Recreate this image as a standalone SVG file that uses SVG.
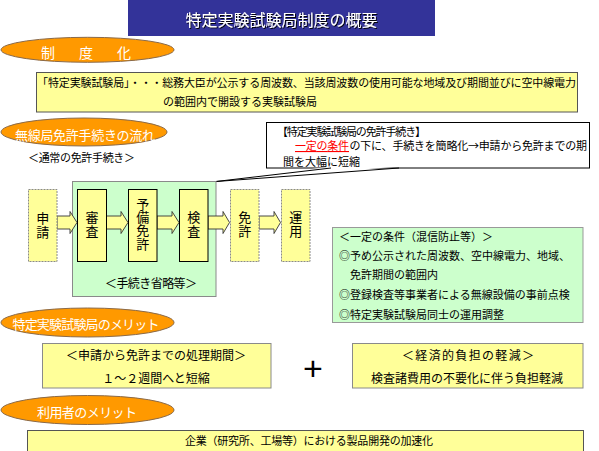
<svg xmlns="http://www.w3.org/2000/svg" width="599" height="451" viewBox="0 0 599 451">
<defs>
<style>
text{font-family:"Noto Sans CJK JP","Noto Sans CJK SC",sans-serif;fill:#000;}
.t11{font-size:11px;}
.t12{font-size:12px;}
.t13{font-size:13px;}
.ell{fill:#FF9900;stroke:#8a6a4a;stroke-width:1;}
.etxt{fill:#fff;font-size:13px;}
.yb{fill:#FFFF99;stroke:#555;stroke-width:1;}
.ybg{fill:#FFFF99;stroke:#8a8a8a;stroke-width:1;}
.fbk{fill:#FFFF99;stroke:#000;stroke-width:1;}
.arr{fill:#FFFF99;stroke:#333;stroke-width:0.9;}
.vt{font-size:13px;text-anchor:middle;writing-mode:vertical-rl;}
.mid{text-anchor:middle;}
</style>
<filter id="sh" x="-5%" y="-20%" width="110%" height="140%">
<feDropShadow dx="1" dy="1" stdDeviation="0.4" flood-color="#000" flood-opacity="0.9"/>
</filter>
</defs>
<rect width="599" height="451" fill="#fff"/>

<g id="title">
<rect x="128" y="0" width="307" height="36" fill="#333399"/>
<text x="281.5" y="25.5" class="mid" style="font-size:16px;fill:#fff" filter="url(#sh)">特定実験試験局制度の概要</text>
</g>

<g id="sec-seido">
<ellipse cx="87.5" cy="49.8" rx="86.5" ry="12.5" class="ell"/>
<text x="41" y="57.5" class="etxt" style="font-size:14px;letter-spacing:5px">制　度　化</text>
</g>

<g id="def-box">
<rect x="36.5" y="72.5" width="541" height="39.5" class="yb"/>
<text x="37" y="86.5" class="t11" textLength="539" lengthAdjust="spacing">「特定実験試験局」・・・総務大臣が公示する周波数、当該周波数の使用可能な地域及び期間並びに空中線電力</text>
<text x="163" y="105.5" class="t11">の範囲内で開設する実験試験局</text>
</g>

<g id="sec-flow">
<ellipse cx="84" cy="132" rx="83" ry="14" class="ell"/>
<text x="85" y="139.5" class="etxt mid" textLength="140" lengthAdjust="spacing">無線局免許手続きの流れ</text>
</g>

<g id="label-normal">
<text x="28" y="162" class="t11" textLength="107" lengthAdjust="spacing">＜通常の免許手続き＞</text>
</g>

<g id="callout">
<rect x="266.5" y="122.5" width="323" height="45.5" fill="#fff" stroke="#000" stroke-width="1"/>
<polygon points="331,166.5 399,166.5 216,181.5" fill="#fff"/>
<path d="M331,168 L216,181.5 L399,168" fill="none" stroke="#000" stroke-width="1"/>
<text x="277" y="135.5" class="t11" textLength="149" lengthAdjust="spacing">【特定実験試験局の免許手続き】</text>
<text x="295" y="150" class="t11" textLength="54" lengthAdjust="spacing" style="fill:#ff0000;text-decoration:underline">一定の条件</text>
<text x="349.5" y="150" class="t11" textLength="237.5" lengthAdjust="spacing">の下に、手続きを簡略化→申請から免許までの期</text>
<text x="283" y="165.5" class="t11">間を大幅に短縮</text>
</g>

<g id="omit-group">
<rect x="72.5" y="181.5" width="143.5" height="115" fill="#CCFFCC" stroke="#8a8a8a" stroke-width="1"/>
<text x="151" y="288" class="t12 mid" textLength="92" lengthAdjust="spacing">＜手続き省略等＞</text>
</g>

<g id="connectors">
<path class="arr" d="M57,216 H70 V211.5 L77,222.5 L70,233.5 V229 H57 Z"/>
<path class="arr" d="M106,216 H121 V211.5 L128,222.5 L121,233.5 V229 H106 Z"/>
<path class="arr" d="M157,216 H172 V211.5 L179,222.5 L172,233.5 V229 H157 Z"/>
<path class="arr" d="M208,216 H223 V211.5 L229.5,222.5 L223,233.5 V229 H208 Z"/>
<path class="arr" d="M259,216 H274 V211.5 L280.5,222.5 L274,233.5 V229 H259 Z"/>
</g>

<g id="n-shinsei">
<rect x="28.5" y="189.5" width="28.5" height="72" class="ybg" stroke-dasharray="2 1"/>
<text x="42.7" y="225.5" class="vt" style="letter-spacing:1px">申請</text>
</g>
<g id="n-shinsa">
<rect x="77.5" y="189.5" width="29" height="72" class="fbk"/>
<text x="92" y="224.5" class="vt" style="letter-spacing:1px">審査</text>
</g>
<g id="n-yobi">
<rect x="128.5" y="189.5" width="28.5" height="72" class="fbk"/>
<text x="142.7" y="224" class="vt" style="letter-spacing:0.3px">予備免許</text>
</g>
<g id="n-kensa">
<rect x="179.5" y="189.5" width="28.5" height="72" class="fbk"/>
<text x="193.7" y="224.5" class="vt" style="letter-spacing:1px">検査</text>
</g>
<g id="n-menkyo">
<rect x="230.5" y="189.5" width="28.5" height="72" class="ybg" stroke-dasharray="2 1"/>
<text x="244.7" y="225" class="vt" style="letter-spacing:1px">免許</text>
</g>
<g id="n-unyo">
<rect x="281.5" y="189.5" width="28.5" height="72" class="ybg" stroke-dasharray="2 1"/>
<text x="295.7" y="225" class="vt" style="letter-spacing:1px">運用</text>
</g>

<g id="conditions">
<rect x="332.5" y="227.5" width="250.5" height="95" fill="#CCFFCC" stroke="#999" stroke-width="1"/>
<text x="339" y="241" class="t11">＜一定の条件（混信防止等）＞</text>
<text x="339" y="260" class="t11">◎予め公示された周波数、空中線電力、地域、</text>
<text x="350" y="279" class="t11">免許期間の範囲内</text>
<text x="339" y="299" class="t11">◎登録検査等事業者による無線設備の事前点検</text>
<text x="339" y="319" class="t11">◎特定実験試験局同士の運用調整</text>
</g>

<g id="sec-merit">
<ellipse cx="87.5" cy="322.5" rx="86.5" ry="14.5" class="ell"/>
<text x="86" y="328.5" class="etxt mid" textLength="147" lengthAdjust="spacing">特定実験試験局のメリット</text>
</g>

<g id="merit-period">
<rect x="42.5" y="343.5" width="228.5" height="44.5" class="ybg"/>
<text x="156" y="359.5" class="t12 mid">＜申請から免許までの処理期間＞</text>
<text x="156" y="382.5" class="t12 mid">１～２週間へと短縮</text>
</g>

<g id="plus">
<text x="313" y="380" class="mid" style="font-family:'Liberation Sans',sans-serif;font-size:34px">+</text>
</g>

<g id="merit-cost">
<rect x="352.5" y="343.5" width="230.5" height="44.5" class="ybg"/>
<text x="468" y="359.5" class="t12 mid" textLength="132" lengthAdjust="spacing">＜経済的負担の軽減＞</text>
<text x="467" y="382.5" class="t12 mid">検査諸費用の不要化に伴う負担軽減</text>
</g>

<g id="sec-user">
<ellipse cx="87.5" cy="410" rx="86.5" ry="14.5" class="ell"/>
<text x="87" y="416.5" class="etxt mid" textLength="100" lengthAdjust="spacing">利用者のメリット</text>
</g>

<g id="user-box">
<rect x="27.5" y="430.5" width="556" height="22" class="yb"/>
<text x="185" y="444.5" class="t11" textLength="248" lengthAdjust="spacing">企業（研究所、工場等）における製品開発の加速化</text>
</g>
</svg>
